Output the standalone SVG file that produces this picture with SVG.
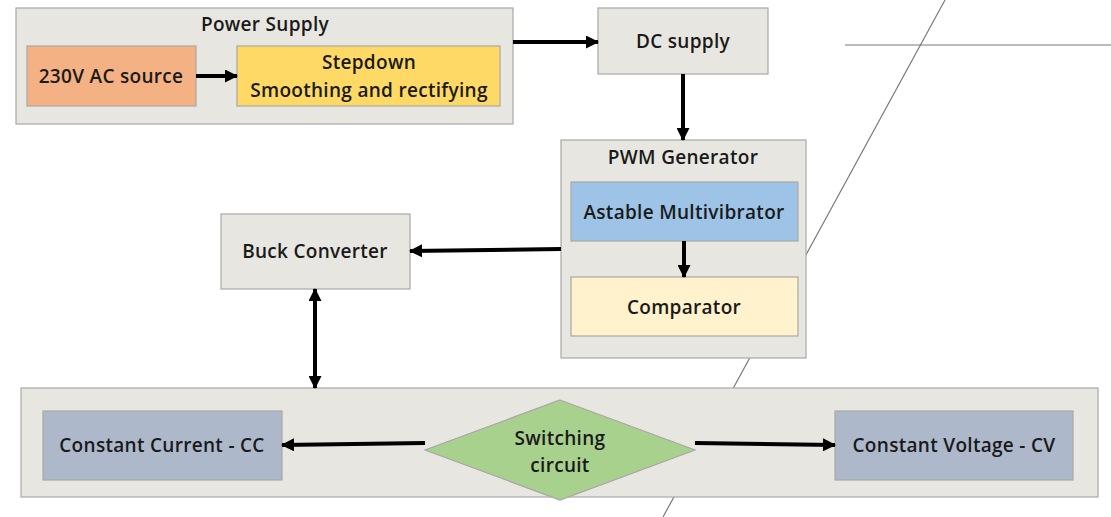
<svg xmlns="http://www.w3.org/2000/svg" width="1111" height="517" viewBox="0 0 1111 517">
<style>
.box{stroke:#a8a8a4;stroke-width:1.2}
.grey{fill:#e8e6e0}
.t{font-family:"Open Sans","Noto Sans","Liberation Sans",sans-serif;font-weight:600;font-size:19px;letter-spacing:0.3px;fill:#1a1a1a;text-anchor:middle}
.c{stroke:#000;stroke-width:4;fill:none}
.deco{stroke:#7a7a7a;stroke-width:1.2;fill:none}
</style>
<defs>
<marker id="ah" viewBox="0 0 13 13" refX="12" refY="6.5" markerWidth="13" markerHeight="13" markerUnits="userSpaceOnUse" orient="auto-start-reverse">
<path d="M0,0 L13,6.5 L0,13 Z" fill="#000"/>
</marker>
</defs>
<g id="decoration">
<line class="deco" x1="945" y1="0" x2="663" y2="517"/>
<line class="deco" x1="845" y1="45" x2="1111" y2="45"/>
</g>
<g id="power-supply">
<rect class="box grey" x="16" y="8" width="497" height="116"/>
<text class="t" x="265" y="31">Power Supply</text>
</g>
<g id="ac-source">
<rect class="box" x="27" y="46" width="169" height="60" fill="#f4b183"/>
<text class="t" x="111" y="83">230V AC source</text>
</g>
<g id="stepdown">
<rect class="box" x="237" y="46" width="263" height="60" fill="#ffd966"/>
<text class="t" x="369" y="69">Stepdown</text>
<text class="t" x="369" y="97">Smoothing and rectifying</text>
</g>
<g id="dc-supply">
<rect class="box grey" x="598" y="8" width="170" height="66"/>
<text class="t" x="683" y="48">DC supply</text>
</g>
<g id="pwm-generator">
<rect class="box grey" x="561" y="140" width="245" height="218"/>
<text class="t" x="683" y="164">PWM Generator</text>
</g>
<g id="astable">
<rect class="box" x="571" y="182" width="227" height="59" fill="#9dc3e6"/>
<text class="t" x="684" y="219">Astable Multivibrator</text>
</g>
<g id="comparator">
<rect class="box" x="571" y="277" width="227" height="59" fill="#fff2cc"/>
<text class="t" x="684" y="314">Comparator</text>
</g>
<g id="buck-converter">
<rect class="box grey" x="221" y="214" width="189" height="75"/>
<text class="t" x="315" y="258">Buck Converter</text>
</g>
<g id="output-stage">
<rect class="box grey" x="21" y="388" width="1077" height="109"/>
</g>
<g id="constant-current">
<rect class="box" x="43" y="411" width="239" height="69" fill="#adb9ca"/>
<text class="t" x="162" y="452">Constant Current - CC</text>
</g>
<g id="switching">
<polygon class="box" points="560,400 695,450 560,500 425,450" fill="#a9d18e"/>
<text class="t" x="560" y="445">Switching</text>
<text class="t" x="560" y="472">circuit</text>
</g>
<g id="constant-voltage">
<rect class="box" x="835" y="411" width="238" height="69" fill="#adb9ca"/>
<text class="t" x="954" y="452">Constant Voltage - CV</text>
</g>
<g id="connectors">
<line class="c" x1="196" y1="76" x2="237" y2="76" marker-end="url(#ah)"/>
<line class="c" x1="513" y1="42" x2="598" y2="42" marker-end="url(#ah)"/>
<line class="c" x1="683" y1="74" x2="683" y2="140" marker-end="url(#ah)"/>
<line class="c" x1="684" y1="241" x2="684" y2="277" marker-end="url(#ah)"/>
<line class="c" x1="561" y1="249" x2="410" y2="251" marker-end="url(#ah)"/>
<line class="c" x1="315" y1="289" x2="315" y2="388" marker-start="url(#ah)" marker-end="url(#ah)"/>
<line class="c" x1="425" y1="443" x2="282" y2="445" marker-end="url(#ah)"/>
<line class="c" x1="695" y1="443" x2="835" y2="445" marker-end="url(#ah)"/>
</g>
</svg>
